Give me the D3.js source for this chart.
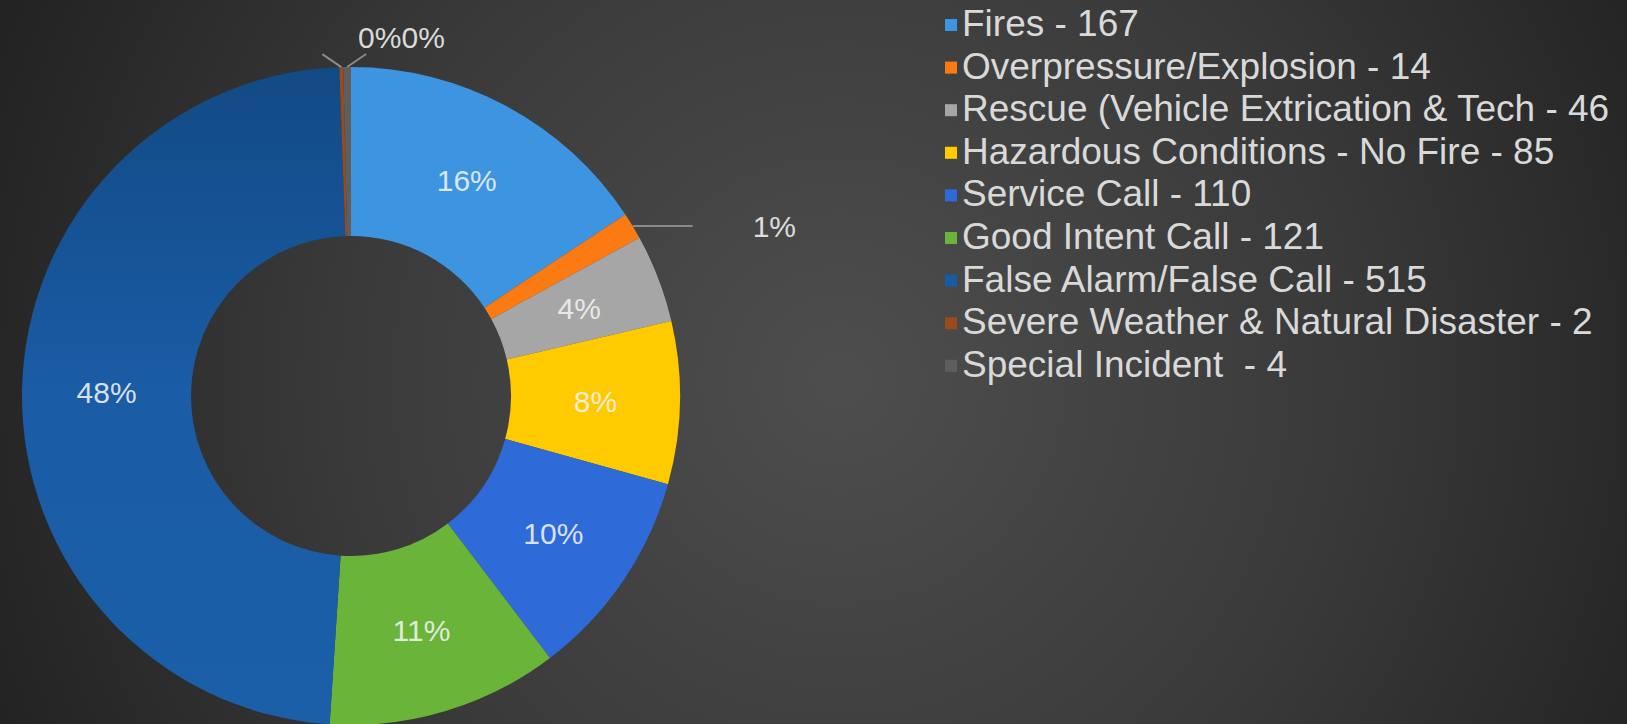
<!DOCTYPE html>
<html>
<head>
<meta charset="utf-8">
<script src="https://cdn.jsdelivr.net/npm/d3@7"></script>
<style>
  html, body { margin: 0; padding: 0; background: #333; }
  svg { display: block; }
  text { font-family: "Liberation Sans", Arial, sans-serif; }
</style>
</head>
<body>
<svg id="chart" width="1627" height="724"></svg>
<script>
// Incident types and their counts for the year
const categories = [
  "Fires",
  "Overpressure/Explosion",
  "Rescue (Vehicle Extrication & Tech",
  "Hazardous Conditions - No Fire",
  "Service Call",
  "Good Intent Call",
  "False Alarm/False Call",
  "Severe Weather & Natural Disaster",
  "Special Incident "
];
const counts = [167, 14, 46, 85, 110, 121, 515, 2, 4];
const sliceColors = [
  "#3d95e2", "#fb7b12", "#a6a6a6", "#ffcb00", "#2e6bd9",
  "#6bb43a", "#1a5ca4", "#9a4a1c", "#5e5e5e"
];

const W = 1627, H = 724;
const svg = d3.select("#chart");
const defs = svg.append("defs");

// dark radial backdrop
const bg = defs.append("radialGradient")
  .attr("id", "bg").attr("gradientUnits", "userSpaceOnUse")
  .attr("cx", 840).attr("cy", 380).attr("r", 900);
bg.append("stop").attr("offset", 0).attr("stop-color", "#4e4e4e");
bg.append("stop").attr("offset", 0.55).attr("stop-color", "#3a3a3a");
bg.append("stop").attr("offset", 1).attr("stop-color", "#232323");
svg.append("rect").attr("width", W).attr("height", H).attr("fill", "url(#bg)");

// shading for the large slice
const shade = defs.append("linearGradient")
  .attr("id", "shadeBig").attr("x1", 0).attr("y1", 0).attr("x2", 0).attr("y2", 1);
shade.append("stop").attr("offset", 0).attr("stop-color", "#124a84");
shade.append("stop").attr("offset", 0.5).attr("stop-color", "#1a5ca6");
shade.append("stop").attr("offset", 1).attr("stop-color", "#1b5fa8");

const cx = 351, cy = 396;
const outerR = 329, innerR = 160;
const total = d3.sum(counts);
const pct = d3.format(".0%");

const data = categories.map((c, i) => ({ name: c, value: counts[i], color: sliceColors[i], i }));

const pie = d3.pie().value(d => d.value).sort(null);
const arcs = pie(data);
const arc = d3.arc().innerRadius(innerR).outerRadius(outerR);

const g = svg.append("g").attr("transform", `translate(${cx},${cy})`);

g.selectAll("path.slice")
  .data(arcs)
  .join("path")
  .attr("class", "slice")
  .attr("d", arc)
  .attr("fill", d => d.data.i === 6 ? "url(#shadeBig)" : d.data.color);

// point on the outer rim at the slice's middle angle
function rimPoint(d, r) {
  const a = (d.startAngle + d.endAngle) / 2;
  return [r * Math.sin(a), -r * Math.cos(a)];
}

const labelStyle = sel => sel
  .attr("font-size", 30)
  .attr("fill", "#f2f2f2")
  .attr("fill-opacity", 0.88);

// labels inside the wide slices
const big = arcs.filter(d => d.value / total >= 0.03);
g.selectAll("text.inside")
  .data(big)
  .join("text")
  .attr("class", "inside")
  .attr("transform", d => `translate(${arc.centroid(d)})`)
  .attr("text-anchor", "middle")
  .attr("dy", "0.36em")
  .call(labelStyle)
  .text(d => pct(d.value / total));

// small slice on the right: horizontal leader and label
const lineColor = "#8a8a8a";
const small = arcs.filter(d => d.value / total < 0.03);
const rightSmall = small.filter(d => (d.startAngle + d.endAngle) / 2 < Math.PI);
rightSmall.forEach(d => {
  const [x0, y0] = rimPoint(d, outerR);
  g.append("line")
    .attr("x1", x0).attr("y1", y0).attr("x2", x0 + 60).attr("y2", y0)
    .attr("stroke", lineColor).attr("stroke-width", 2);
  g.append("text")
    .attr("x", x0 + 120).attr("y", y0)
    .attr("dy", "0.36em")
    .call(labelStyle)
    .text(pct(d.value / total));
});

// tiny slices at the top: short angled leaders, labels side by side above
const topSmall = small.filter(d => (d.startAngle + d.endAngle) / 2 >= Math.PI);
const lastRim = rimPoint(topSmall[topSmall.length - 1], outerR);
let labelX = lastRim[0] + 11;
const labelY = lastRim[1] - 19;
topSmall.forEach((d, k) => {
  const [x0, y0] = rimPoint(d, outerR);
  const dx = k === 0 ? -19 : 19;
  g.append("line")
    .attr("x1", x0).attr("y1", y0).attr("x2", x0 + dx).attr("y2", y0 - 13)
    .attr("stroke", lineColor).attr("stroke-width", 2);
  const t = g.append("text")
    .attr("x", labelX).attr("y", labelY)
    .call(labelStyle)
    .text(pct(d.value / total));
  labelX += t.node().getComputedTextLength();
});

// legend
const legend = svg.append("g").attr("transform", "translate(945,0)");
const rowStep = 42.6, firstBaseline = 36;
const rows = legend.selectAll("g.row")
  .data(data)
  .join("g")
  .attr("class", "row")
  .attr("transform", (d, i) => `translate(0,${firstBaseline + i * rowStep})`);
rows.append("rect")
  .attr("x", 0).attr("y", -17).attr("width", 12).attr("height", 12)
  .attr("fill", d => d.color);
rows.append("text")
  .attr("x", 17).attr("y", 0)
  .attr("font-size", 37)
  .attr("fill", "#d9d9d9")
  .style("white-space", "pre")
  .text(d => `${d.name} - ${d.value}`);
</script>
</body>
</html>
